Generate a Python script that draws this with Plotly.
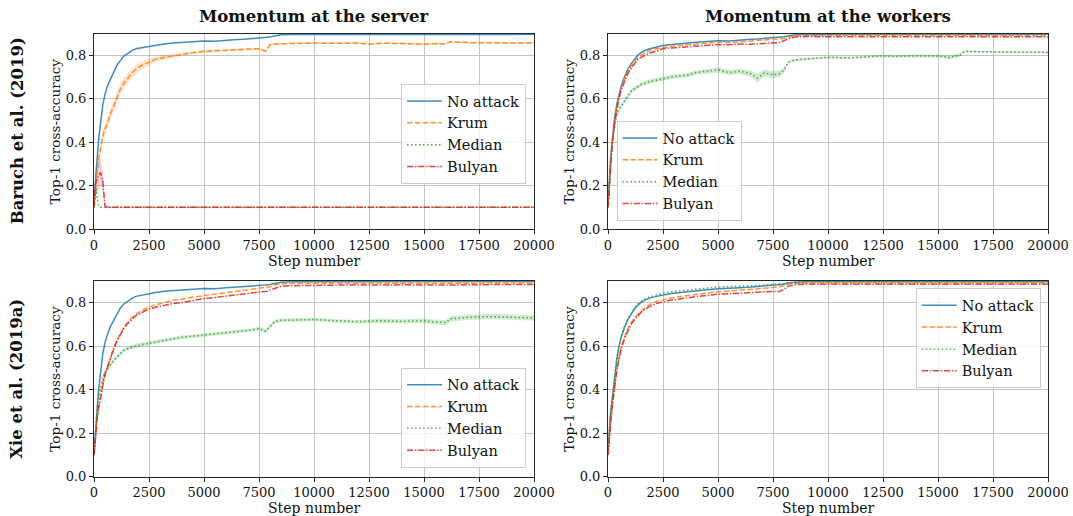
import plotly.graph_objects as go
from plotly.subplots import make_subplots

STEPS = [0, 50, 100, 150, 200, 300, 400, 500, 600, 750, 900, 1050, 1200, 1350, 1500,
         1700, 1900, 2200, 2500, 2800, 3200, 3600, 4000, 4500, 5000, 5500, 6000, 6500,
         6800, 7100, 7500, 7800, 8000, 8200, 8500, 9000, 10000, 11000, 12000, 12500,
         13000, 14000, 15000, 15500, 16000, 16200, 17000, 18000, 19000, 20000]

SERIES = ["No attack", "Krum", "Median", "Bulyan"]
COL_TITLES = ["Momentum at the server", "Momentum at the workers"]
ROW_TITLES = ["Baruch et al. (2019)", "Xie et al. (2019a)"]
X_TITLE = "Step number"
Y_TITLE = "Top-1 cross-accuracy"
X_TICKS = [0, 2500, 5000, 7500, 10000, 12500, 15000, 17500, 20000]
Y_TICKS = [0.0, 0.2, 0.4, 0.6, 0.8]

# ---- Baruch et al., momentum at the server ----
A_NOATTACK = [0.10, 0.20, 0.27, 0.33, 0.40, 0.49, 0.57, 0.62, 0.655, 0.69, 0.72, 0.755, 0.775, 0.795, 0.805,
              0.82, 0.83, 0.835, 0.843, 0.846, 0.852, 0.856, 0.858, 0.862, 0.866, 0.864, 0.869, 0.872,
              0.873, 0.876, 0.879, 0.881, 0.884, 0.889, 0.894, 0.895, 0.895, 0.896, 0.895, 0.896,
              0.896, 0.895, 0.896, 0.896, 0.895, 0.896, 0.896, 0.896, 0.895, 0.896]
A_KRUM = [0.10, 0.17, 0.23, 0.27, 0.31, 0.375, 0.43, 0.46, 0.49, 0.53, 0.565, 0.605, 0.645, 0.67, 0.69,
          0.715, 0.735, 0.755, 0.768, 0.782, 0.79, 0.797, 0.805, 0.812, 0.818, 0.82, 0.823, 0.826,
          0.828, 0.827, 0.83, 0.818, 0.848, 0.852, 0.853, 0.855, 0.856, 0.855, 0.856, 0.851,
          0.855, 0.854, 0.851, 0.853, 0.853, 0.862, 0.858, 0.857, 0.856, 0.856]
A_KRUM_BAND = [0.01, 0.015, 0.02, 0.02, 0.02, 0.02, 0.02, 0.02, 0.022, 0.022, 0.024, 0.025, 0.025, 0.025, 0.024,
               0.022, 0.02, 0.018, 0.016, 0.012, 0.01, 0.008, 0.007, 0.006, 0.006, 0.005, 0.005, 0.005,
               0.005, 0.005, 0.005, 0.006, 0.004, 0.004, 0.004, 0.004, 0.004, 0.004, 0.004, 0.004,
               0.004, 0.004, 0.004, 0.004, 0.004, 0.004, 0.004, 0.004, 0.004, 0.004]
A_MEDIAN = [0.10, 0.16, 0.19, 0.14, 0.11, 0.10, 0.10, 0.10, 0.10, 0.10, 0.10, 0.10, 0.10, 0.10, 0.10,
            0.10, 0.10, 0.10, 0.10, 0.10, 0.10, 0.10, 0.10, 0.10, 0.10, 0.10, 0.10, 0.10,
            0.10, 0.10, 0.10, 0.10, 0.10, 0.10, 0.10, 0.10, 0.10, 0.10, 0.10, 0.10,
            0.10, 0.10, 0.10, 0.10, 0.10, 0.10, 0.10, 0.10, 0.10, 0.10]
A_BULYAN = [0.10, 0.20, 0.22, 0.235, 0.245, 0.26, 0.22, 0.105, 0.10, 0.10, 0.10, 0.10, 0.10, 0.10, 0.10,
            0.10, 0.10, 0.10, 0.10, 0.10, 0.10, 0.10, 0.10, 0.10, 0.10, 0.10, 0.10, 0.10,
            0.10, 0.10, 0.10, 0.10, 0.10, 0.10, 0.10, 0.10, 0.10, 0.10, 0.10, 0.10,
            0.10, 0.10, 0.10, 0.10, 0.10, 0.10, 0.10, 0.10, 0.10, 0.10]
A_BULYAN_BAND = [0.0, 0.04, 0.06, 0.07, 0.07, 0.06, 0.04, 0.01, 0.002, 0.002, 0.002, 0.002, 0.002, 0.002, 0.002,
                 0.002, 0.002, 0.002, 0.002, 0.002, 0.002, 0.002, 0.002, 0.002, 0.002, 0.002, 0.002, 0.002,
                 0.002, 0.002, 0.002, 0.002, 0.002, 0.002, 0.002, 0.002, 0.002, 0.002, 0.002, 0.002,
                 0.002, 0.002, 0.002, 0.002, 0.002, 0.002, 0.002, 0.002, 0.002, 0.002]

# ---- Baruch et al., momentum at the workers ----
B_NOATTACK = [0.10, 0.22, 0.30, 0.36, 0.42, 0.51, 0.575, 0.62, 0.66, 0.70, 0.735, 0.76, 0.78, 0.80, 0.812,
              0.823, 0.83, 0.838, 0.845, 0.848, 0.853, 0.857, 0.86, 0.863, 0.867, 0.866, 0.871, 0.874,
              0.875, 0.877, 0.88, 0.882, 0.885, 0.89, 0.894, 0.895, 0.896, 0.896, 0.895, 0.896,
              0.896, 0.896, 0.895, 0.896, 0.896, 0.896, 0.896, 0.895, 0.896, 0.896]
B_KRUM = [0.10, 0.20, 0.28, 0.345, 0.405, 0.50, 0.565, 0.61, 0.65, 0.69, 0.725, 0.75, 0.772, 0.79, 0.80,
          0.813, 0.822, 0.83, 0.836, 0.84, 0.845, 0.848, 0.852, 0.855, 0.86, 0.858, 0.862, 0.865,
          0.866, 0.868, 0.871, 0.873, 0.877, 0.884, 0.889, 0.891, 0.892, 0.891, 0.892, 0.891,
          0.892, 0.891, 0.892, 0.891, 0.891, 0.892, 0.891, 0.892, 0.891, 0.891]
B_MEDIAN = [0.10, 0.20, 0.28, 0.35, 0.41, 0.47, 0.53, 0.55, 0.565, 0.59, 0.61, 0.635, 0.645, 0.655, 0.665,
            0.672, 0.68, 0.685, 0.693, 0.698, 0.705, 0.708, 0.72, 0.725, 0.733, 0.72, 0.726, 0.715,
            0.695, 0.718, 0.71, 0.716, 0.73, 0.768, 0.778, 0.783, 0.79, 0.788, 0.795, 0.797,
            0.794, 0.797, 0.796, 0.79, 0.80, 0.818, 0.816, 0.815, 0.814, 0.813]
B_MEDIAN_BAND = [0.005, 0.005, 0.006, 0.006, 0.007, 0.008, 0.008, 0.008, 0.008, 0.01, 0.01, 0.01, 0.01, 0.01, 0.01,
                 0.01, 0.01, 0.01, 0.01, 0.01, 0.01, 0.01, 0.01, 0.01, 0.012, 0.012, 0.012, 0.014,
                 0.02, 0.016, 0.016, 0.016, 0.012, 0.006, 0.006, 0.005, 0.005, 0.005, 0.005, 0.005,
                 0.005, 0.006, 0.006, 0.008, 0.008, 0.004, 0.004, 0.004, 0.004, 0.004]
B_BULYAN = [0.10, 0.19, 0.27, 0.34, 0.40, 0.49, 0.555, 0.60, 0.64, 0.68, 0.715, 0.74, 0.76, 0.78, 0.79,
            0.80, 0.81, 0.82, 0.83, 0.833, 0.836, 0.84, 0.843, 0.845, 0.849, 0.848, 0.852, 0.85,
            0.853, 0.855, 0.857, 0.858, 0.866, 0.876, 0.884, 0.886, 0.885, 0.885, 0.886, 0.885,
            0.885, 0.886, 0.885, 0.885, 0.885, 0.886, 0.885, 0.885, 0.885, 0.885]

# ---- Xie et al., momentum at the server ----
C_NOATTACK = [0.10, 0.19, 0.26, 0.32, 0.39, 0.49, 0.565, 0.615, 0.65, 0.69, 0.72, 0.75, 0.775, 0.792, 0.805,
              0.818, 0.828, 0.835, 0.842, 0.846, 0.851, 0.855, 0.857, 0.861, 0.864, 0.863, 0.868, 0.871,
              0.872, 0.875, 0.879, 0.88, 0.883, 0.888, 0.893, 0.895, 0.895, 0.896, 0.895, 0.896,
              0.895, 0.896, 0.896, 0.895, 0.896, 0.896, 0.895, 0.896, 0.896, 0.896]
C_KRUM = [0.10, 0.17, 0.23, 0.27, 0.31, 0.38, 0.43, 0.47, 0.50, 0.55, 0.59, 0.63, 0.655, 0.685, 0.705,
          0.73, 0.745, 0.765, 0.78, 0.79, 0.80, 0.81, 0.815, 0.825, 0.832, 0.838, 0.845, 0.851,
          0.855, 0.858, 0.864, 0.868, 0.872, 0.88, 0.886, 0.888, 0.889, 0.889, 0.888, 0.889,
          0.889, 0.888, 0.889, 0.889, 0.889, 0.888, 0.889, 0.889, 0.889, 0.889]
C_MEDIAN = [0.10, 0.18, 0.26, 0.32, 0.36, 0.415, 0.455, 0.48, 0.495, 0.515, 0.535, 0.55, 0.565, 0.58, 0.587,
            0.595, 0.60, 0.607, 0.613, 0.62, 0.627, 0.633, 0.64, 0.645, 0.65, 0.655, 0.66, 0.666,
            0.67, 0.673, 0.68, 0.668, 0.69, 0.712, 0.718, 0.72, 0.722, 0.716, 0.712, 0.714,
            0.716, 0.713, 0.716, 0.71, 0.708, 0.725, 0.732, 0.735, 0.732, 0.729]
C_MEDIAN_BAND = [0.005, 0.008, 0.01, 0.01, 0.01, 0.01, 0.01, 0.01, 0.01, 0.01, 0.01, 0.01, 0.01, 0.01, 0.01,
                 0.01, 0.01, 0.01, 0.01, 0.008, 0.008, 0.008, 0.008, 0.008, 0.008, 0.008, 0.008, 0.008,
                 0.008, 0.008, 0.008, 0.01, 0.01, 0.008, 0.008, 0.008, 0.008, 0.008, 0.008, 0.008,
                 0.01, 0.01, 0.01, 0.012, 0.012, 0.012, 0.012, 0.012, 0.012, 0.012]
C_BULYAN = [0.10, 0.17, 0.23, 0.27, 0.31, 0.37, 0.425, 0.47, 0.50, 0.55, 0.59, 0.625, 0.655, 0.68, 0.70,
            0.72, 0.74, 0.755, 0.77, 0.778, 0.788, 0.795, 0.80, 0.81, 0.818, 0.823, 0.83, 0.835,
            0.838, 0.842, 0.848, 0.85, 0.857, 0.866, 0.874, 0.877, 0.879, 0.88, 0.881, 0.88,
            0.881, 0.881, 0.88, 0.881, 0.881, 0.882, 0.881, 0.882, 0.881, 0.882]

# ---- Xie et al., momentum at the workers ----
D_NOATTACK = [0.10, 0.20, 0.27, 0.32, 0.37, 0.47, 0.54, 0.60, 0.64, 0.685, 0.72, 0.745, 0.77, 0.787, 0.80,
              0.812, 0.82, 0.828, 0.835, 0.84, 0.845, 0.85, 0.854, 0.858, 0.863, 0.864, 0.868, 0.871,
              0.873, 0.876, 0.879, 0.881, 0.884, 0.889, 0.893, 0.895, 0.895, 0.896, 0.895, 0.895,
              0.896, 0.895, 0.895, 0.896, 0.895, 0.895, 0.896, 0.895, 0.895, 0.895]
D_KRUM = [0.10, 0.17, 0.23, 0.28, 0.33, 0.42, 0.49, 0.55, 0.595, 0.64, 0.68, 0.705, 0.73, 0.745, 0.76,
          0.778, 0.79, 0.805, 0.812, 0.82, 0.826, 0.832, 0.837, 0.843, 0.849, 0.852, 0.856, 0.86,
          0.862, 0.865, 0.869, 0.872, 0.876, 0.883, 0.888, 0.889, 0.89, 0.889, 0.89, 0.89,
          0.889, 0.89, 0.89, 0.889, 0.89, 0.89, 0.889, 0.89, 0.89, 0.89]
D_MEDIAN = [0.10, 0.20, 0.27, 0.32, 0.37, 0.47, 0.54, 0.60, 0.645, 0.69, 0.725, 0.75, 0.775, 0.792, 0.805,
            0.818, 0.826, 0.835, 0.842, 0.848, 0.853, 0.857, 0.862, 0.866, 0.871, 0.872, 0.875, 0.877,
            0.878, 0.88, 0.882, 0.884, 0.887, 0.891, 0.894, 0.896, 0.896, 0.896, 0.895, 0.896,
            0.896, 0.896, 0.895, 0.896, 0.896, 0.896, 0.895, 0.896, 0.896, 0.896]
D_BULYAN = [0.10, 0.17, 0.23, 0.28, 0.33, 0.42, 0.485, 0.54, 0.585, 0.635, 0.67, 0.70, 0.72, 0.74, 0.755,
            0.77, 0.782, 0.795, 0.803, 0.81, 0.815, 0.822, 0.827, 0.832, 0.838, 0.84, 0.843, 0.846,
            0.848, 0.85, 0.851, 0.85, 0.86, 0.874, 0.882, 0.884, 0.884, 0.884, 0.883, 0.884,
            0.884, 0.883, 0.884, 0.884, 0.883, 0.884, 0.884, 0.883, 0.884, 0.884]

PANELS = [
    (1, 1, [A_NOATTACK, A_KRUM, A_MEDIAN, A_BULYAN], {1: A_KRUM_BAND, 3: A_BULYAN_BAND}),
    (1, 2, [B_NOATTACK, B_KRUM, B_MEDIAN, B_BULYAN], {2: B_MEDIAN_BAND}),
    (2, 1, [C_NOATTACK, C_KRUM, C_MEDIAN, C_BULYAN], {2: C_MEDIAN_BAND}),
    (2, 2, [D_NOATTACK, D_KRUM, D_MEDIAN, D_BULYAN], {}),
]

COLORS = [(31, 119, 180), (255, 127, 14), (44, 160, 44), (214, 39, 40)]
DASHES = ["solid", "5.5px,2.4px", "1.5px,2.5px", "6.4px,1.6px,1.5px,1.6px"]
FONT = "DejaVu Serif"
TXT = "#111111"

fig = make_subplots(rows=2, cols=2)

legend_names = ["legend", "legend2", "legend3", "legend4"]
for p, (r, c, series, bands) in enumerate(PANELS):
    for i, ys in enumerate(series):
        col = COLORS[i]
        if i in bands:
            b = bands[i]
            upper = [y + d for y, d in zip(ys, b)]
            lower = [y - d for y, d in zip(ys, b)]
            fig.add_trace(go.Scatter(
                x=STEPS + STEPS[::-1], y=upper + lower[::-1], fill="toself",
                fillcolor="rgba(%d,%d,%d,0.22)" % col, line=dict(width=0),
                hoverinfo="skip", showlegend=False, mode="lines"), row=r, col=c)
    for i, ys in enumerate(series):
        col = COLORS[i]
        fig.add_trace(go.Scatter(
            x=STEPS, y=ys, mode="lines", name=SERIES[i],
            line=dict(color="rgba(%d,%d,%d,0.85)" % col, width=1.5, dash=DASHES[i]),
            legend=legend_names[p], showlegend=True), row=r, col=c)

XPIX = [[94, 534], [608, 1048]]
YPIX = [[33.5, 229], [280.7, 476.7]]
W, H = 1073, 516
XDOM = [[a / W, b / W] for a, b in XPIX]
YDOM = [[(H - b) / H, (H - a) / H] for a, b in YPIX]

axis_common = dict(
    showline=True, linecolor="#262626", linewidth=1, mirror=True, automargin=False,
    showgrid=True, gridcolor="#c4c4c4", gridwidth=1, zeroline=False,
    ticks="outside", ticklen=4, tickcolor="#262626", tickwidth=1,
    tickfont=dict(family=FONT, size=13, color=TXT),
)
for p, (r, c, _, _) in enumerate(PANELS):
    idx = "" if p == 0 else str(p + 1)
    fig.layout["xaxis" + idx].update(
        domain=XDOM[c - 1], range=[0, 20000], tickvals=X_TICKS,
        ticktext=[str(t) for t in X_TICKS], **axis_common)
    fig.layout["yaxis" + idx].update(
        domain=YDOM[r - 1], range=[0, 0.9], tickvals=Y_TICKS,
        ticktext=["%.1f" % t for t in Y_TICKS], **axis_common)

legend_style = dict(bgcolor="rgba(255,255,255,0.8)", bordercolor="#cccccc", borderwidth=1,
                    font=dict(family=FONT, size=14.5, color=TXT), itemwidth=35)
fig.update_layout(
    legend=dict(x=526 / W, y=(H - 84) / H, xanchor="right", yanchor="top", **legend_style),
    legend2=dict(x=616.5 / W, y=(H - 221) / H, xanchor="left", yanchor="bottom", **legend_style),
    legend3=dict(x=526 / W, y=(H - 467.7) / H, xanchor="right", yanchor="bottom", **legend_style),
    legend4=dict(x=1040.7 / W, y=(H - 288.3) / H, xanchor="right", yanchor="top", **legend_style),
)

annotations = []
# column titles
for j, t in enumerate(COL_TITLES):
    cx = (XDOM[j][0] + XDOM[j][1]) / 2
    annotations.append(dict(text="<b>%s</b>" % t, x=cx, y=(H - 17) / H, xref="paper", yref="paper",
                            showarrow=False, xanchor="center", yanchor="middle",
                            font=dict(family=FONT, size=16.5, color=TXT)))
# row titles
for j, t in enumerate(ROW_TITLES):
    cy = (YDOM[j][0] + YDOM[j][1]) / 2
    annotations.append(dict(text="<b>%s</b>" % t, x=17 / W, y=cy, xref="paper", yref="paper",
                            showarrow=False, xanchor="center", yanchor="middle", textangle=-90,
                            font=dict(family=FONT, size=16.5, color=TXT)))
# axis titles
YT_X = [55, 569]
for r in range(2):
    for c in range(2):
        cx = (XDOM[c][0] + XDOM[c][1]) / 2
        cy = (YDOM[r][0] + YDOM[r][1]) / 2
        annotations.append(dict(text=X_TITLE, x=cx, y=(H - (YPIX[r][1] + 31.5)) / H,
                                xref="paper", yref="paper", showarrow=False,
                                xanchor="center", yanchor="middle",
                                font=dict(family=FONT, size=14, color=TXT)))
        annotations.append(dict(text=Y_TITLE, x=YT_X[c] / W, y=cy, xref="paper", yref="paper",
                                showarrow=False, xanchor="center", yanchor="middle", textangle=-90,
                                font=dict(family=FONT, size=13.6, color=TXT)))

fig.update_layout(
    width=W, height=H, margin=dict(l=0, r=0, t=0, b=0),
    paper_bgcolor="white", plot_bgcolor="white",
    annotations=annotations, font=dict(family=FONT, color=TXT),
)

fig.write_html("out.html")
